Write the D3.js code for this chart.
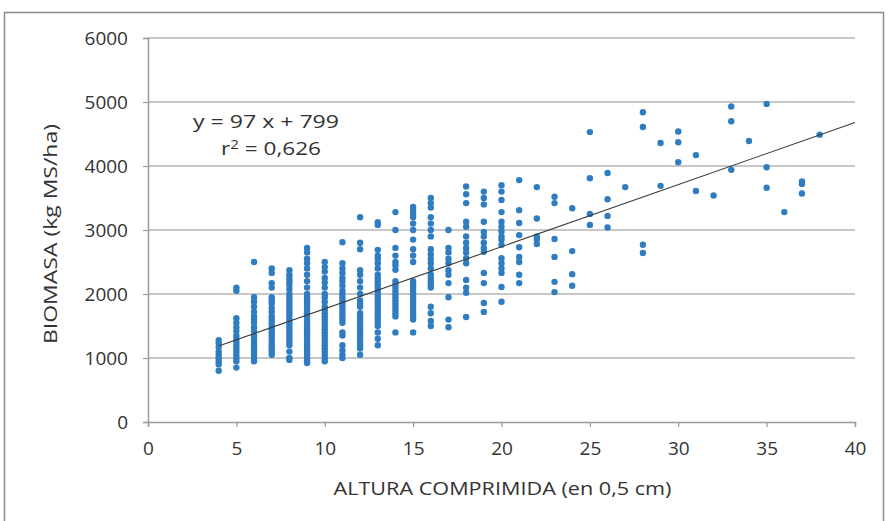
<!DOCTYPE html>
<html>
<head>
<meta charset="utf-8">
<script src="https://cdn.jsdelivr.net/npm/d3@7/dist/d3.min.js"></script>
<style>
  html, body { margin: 0; padding: 0; background: #fff; }
  svg { display: block; }
  text { font-family: "Open Sans", "Noto Sans", sans-serif; fill: #333; }
</style>
</head>
<body>
<svg id="chart" width="888" height="521"></svg>
<script>
// Compressed height (0.5 cm units) sampled at each column
const alturas = [4, 5, 6, 7, 8, 9, 10, 11, 12, 13, 14, 15, 16, 17, 18, 19, 20, 21,
  22, 23, 24, 25, 26, 27, 28, 29, 30, 31, 32, 33, 34, 35, 36, 37, 38];

// Biomass readings (kg MS/ha) for each height above
const biomasa = [
  [1280, 1230, 1170, 1100, 1050, 1000, 950, 900, 800],
  [2100, 2050, 1620, 1550, 1480, 1420, 1350, 1300, 1250, 1200, 1150, 1100, 1050, 1000, 950, 850],
  [2500, 1950, 1880, 1800, 1720, 1650, 1600, 1550, 1480, 1420, 1350, 1300, 1250, 1200, 1150, 1100, 1050, 1000, 950],
  [2400, 2330, 2170, 2100, 1950, 1900, 1850, 1780, 1720, 1650, 1600, 1550, 1500, 1450, 1400, 1350, 1300, 1250, 1200, 1150, 1100, 1050],
  [2370, 2300, 2250, 2200, 2150, 2080, 2000, 1950, 1900, 1850, 1800, 1750, 1700, 1650, 1600, 1550, 1500, 1450, 1400, 1350, 1300, 1250, 1200, 1100, 1000, 970],
  [2720, 2650, 2550, 2480, 2400, 2300, 2200, 2100, 2000, 1950, 1900, 1850, 1800, 1750, 1700, 1650, 1600, 1550, 1500, 1450, 1400, 1350, 1300, 1250, 1200, 1150, 1100, 1050, 1000, 950, 920],
  [2500, 2420, 2350, 2250, 2180, 2100, 2000, 1950, 1880, 1800, 1750, 1700, 1650, 1600, 1550, 1500, 1450, 1400, 1350, 1300, 1250, 1200, 1150, 1100, 1050, 1000, 950],
  [2810, 2480, 2400, 2330, 2250, 2200, 2130, 2050, 2000, 1950, 1900, 1850, 1800, 1750, 1700, 1650, 1600, 1550, 1400, 1350, 1200, 1120, 1050, 1000],
  [3200, 2800, 2700, 2370, 2300, 2200, 2100, 2000, 1900, 1850, 1800, 1700, 1650, 1600, 1550, 1500, 1450, 1400, 1350, 1300, 1250, 1200, 1150, 1050],
  [3120, 3080, 2690, 2600, 2550, 2480, 2400, 2300, 2250, 2200, 2150, 2100, 2050, 2000, 1950, 1900, 1850, 1800, 1750, 1700, 1650, 1600, 1550, 1500, 1400, 1300, 1200],
  [3280, 3000, 2720, 2600, 2500, 2450, 2380, 2200, 2150, 2100, 2050, 2000, 1950, 1900, 1850, 1800, 1750, 1700, 1650, 1400],
  [3360, 3300, 3250, 3200, 3100, 3000, 2850, 2700, 2600, 2500, 2200, 2150, 2100, 2050, 2000, 1950, 1900, 1850, 1800, 1750, 1700, 1650, 1600, 1400],
  [3500, 3420, 3350, 3200, 3100, 3000, 2900, 2700, 2620, 2550, 2480, 2400, 2300, 2250, 2200, 2150, 2100, 1800, 1700, 1580, 1500],
  [3000, 2720, 2650, 2550, 2480, 2370, 2300, 2170, 1950, 1600, 1480],
  [3680, 3560, 3420, 3130, 3050, 2900, 2800, 2720, 2650, 2560, 2480, 2220, 2100, 2020, 1640],
  [3600, 3500, 3400, 3130, 2970, 2900, 2800, 2720, 2660, 2330, 2170, 1860, 1720],
  [3700, 3600, 3470, 3280, 3130, 3050, 2980, 2900, 2850, 2770, 2560, 2480, 2400, 2330, 2110, 1880],
  [3780, 3310, 3110, 2920, 2730, 2580, 2500, 2300, 2170],
  [3670, 3180, 2900, 2850, 2780],
  [3520, 3420, 2860, 2580, 2190, 2030],
  [3340, 2670, 2310, 2130],
  [4530, 3810, 3250, 3080],
  [3890, 3480, 3220, 3040],
  [3670],
  [4840, 4610, 2770, 2640],
  [4360, 3690],
  [4540, 4370, 4060],
  [4170, 3610],
  [3540],
  [4930, 4700, 3940],
  [4390],
  [4970, 3980, 3660],
  [3280],
  [3760, 3720, 3570],
  [4490]
];

// Linear fit reported on the chart
const pendiente = 97;
const intercepto = 799;
const r2Texto = "0,626";

const xTicks = [0, 5, 10, 15, 20, 25, 30, 35, 40];
const yTicks = [0, 1000, 2000, 3000, 4000, 5000, 6000];

const tituloX = "ALTURA COMPRIMIDA (en 0,5 cm)";
const tituloY = "BIOMASA (kg MS/ha)";

const puntos = [];
alturas.forEach((a, i) => biomasa[i].forEach(b => puntos.push({ x: a, y: b })));

const svg = d3.select("#chart");
const area = { left: 148, right: 855, top: 38, bottom: 422 };

const x = d3.scaleLinear().domain([0, 40]).range([area.left, area.right]);
const y = d3.scaleLinear().domain([0, 6000]).range([area.bottom, area.top]);

// Outer frame
svg.append("rect")
  .attr("x", 4.5).attr("y", 12.5)
  .attr("width", 879).attr("height", 530)
  .attr("fill", "none").attr("stroke", "#8c8c8c").attr("stroke-width", 1.5);

// Horizontal gridlines
svg.append("g")
  .selectAll("line")
  .data(yTicks.filter(d => d > 0))
  .join("line")
  .attr("x1", area.left).attr("x2", area.right)
  .attr("y1", d => y(d)).attr("y2", d => y(d))
  .attr("stroke", "#b4b4b4").attr("stroke-width", 1.5);

// Y axis
const yAxis = svg.append("g")
  .attr("transform", `translate(${area.left},0)`)
  .call(d3.axisLeft(y).tickValues(yTicks).tickSize(5).tickPadding(15).tickFormat(d3.format("d")));
yAxis.select(".domain").attr("stroke", "#9a9a9a").attr("stroke-width", 1.5);
yAxis.selectAll(".tick line").attr("stroke", "#9a9a9a").attr("stroke-width", 1.2);
yAxis.selectAll("text").style("font-size", "19px").attr("fill", "#333");

// X axis
const xAxis = svg.append("g")
  .attr("transform", `translate(0,${area.bottom})`)
  .call(d3.axisBottom(x).tickValues(xTicks).tickSize(5).tickPadding(15));
xAxis.select(".domain").attr("stroke", "#9a9a9a").attr("stroke-width", 1.5);
xAxis.selectAll(".tick line").attr("stroke", "#9a9a9a").attr("stroke-width", 1.2);
xAxis.selectAll("text").style("font-size", "19px").attr("fill", "#333");

// Axis titles
svg.append("text")
  .attr("x", (area.left + area.right) / 2 + 1).attr("y", 495)
  .attr("text-anchor", "middle")
  .attr("textLength", 338).attr("lengthAdjust", "spacingAndGlyphs")
  .style("font-size", "19px")
  .text(tituloX);

svg.append("text")
  .attr("transform", `translate(57,${(area.top + area.bottom) / 2 + 4}) rotate(-90)`)
  .attr("text-anchor", "middle")
  .attr("textLength", 220).attr("lengthAdjust", "spacingAndGlyphs")
  .style("font-size", "19px")
  .text(tituloY);

// Data points
svg.append("g")
  .selectAll("circle")
  .data(puntos)
  .join("circle")
  .attr("cx", d => x(d.x))
  .attr("cy", d => y(d.y))
  .attr("r", 3.2)
  .attr("fill", "#2f7cc0");

// Trend line
const x0 = d3.min(alturas), x1 = 40;
svg.append("line")
  .attr("x1", x(x0)).attr("y1", y(pendiente * x0 + intercepto))
  .attr("x2", x(x1)).attr("y2", y(pendiente * x1 + intercepto))
  .attr("stroke", "#3a3a3a").attr("stroke-width", 1.1);

// Fit annotation
svg.append("text")
  .attr("x", 266).attr("y", 128)
  .attr("text-anchor", "middle")
  .attr("textLength", 146).attr("lengthAdjust", "spacingAndGlyphs")
  .style("font-size", "18px")
  .text(`y = ${pendiente} x + ${intercepto}`);

const r2 = svg.append("text")
  .attr("x", 271).attr("y", 155)
  .attr("text-anchor", "middle")
  .attr("textLength", 100).attr("lengthAdjust", "spacingAndGlyphs")
  .style("font-size", "18px");
r2.append("tspan").text("r");
r2.append("tspan").attr("dy", -6).style("font-size", "12px").text("2");
r2.append("tspan").attr("dy", 6).text(` = ${r2Texto}`);
</script>
</body>
</html>
